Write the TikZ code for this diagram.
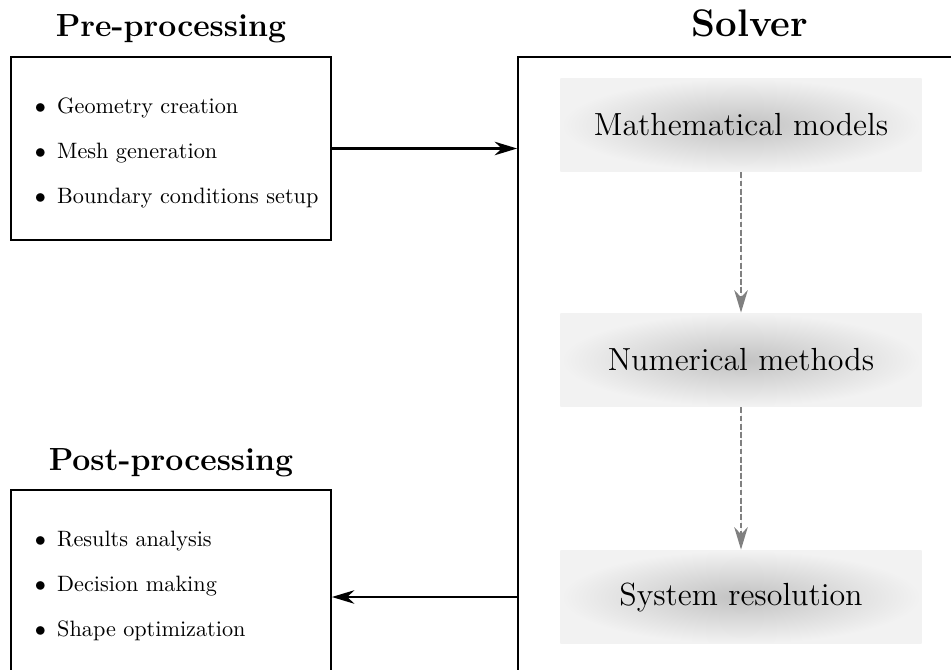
\documentclass[tikz,border=0pt]{standalone}
\usepackage{amsmath}
\usepackage{xcolor}
\definecolor{flowgray}{HTML}{808080}
\usetikzlibrary{arrows.meta,positioning}

\begin{document}
\begin{tikzpicture}[x=0.45pt,y=-0.45pt,>={Stealth[length=10pt,width=6pt,inset=3pt]},line width=0.8pt]
  \tikzstyle{stagebox}=[draw,rectangle,minimum width=144pt,minimum height=82.35pt]
  \tikzstyle{stagelist}=[anchor=west,inner sep=0pt,align=left]
  \tikzstyle{stagetitle}=[anchor=base,font=\Large\bfseries]
  \tikzstyle{solvetitle}=[anchor=base,font=\LARGE\bfseries]
  \tikzstyle{solvebox}=[rectangle,minimum width=162.5pt,minimum height=41.85pt,shading=radial,inner color=black!24,outer color=black!5,font=\Large]
  \tikzstyle{flow}=[->,black,line width=1.05pt]
  \tikzstyle{subflow}=[->,draw=flowgray,fill=flowgray,line width=1.1pt,dash pattern=on 2.6pt off 1.1pt]

  \useasboundingbox (0,0) rectangle (951,670);

  % stages
  \node[stagebox]   (pre)      at (171,148.5) {};
  \node[stagebox]   (post)     at (171,581.5) {};
  \node[stagelist]  (prelist)  [right=10.8pt of pre.west,yshift=-1.8pt]
        {$\bullet$\hspace{5pt}Geometry creation\\[8.25pt]
         $\bullet$\hspace{5pt}Mesh generation\\[8.25pt]
         $\bullet$\hspace{5pt}Boundary conditions setup};
  \node[stagelist]  (postlist) [right=10.8pt of post.west,yshift=-1.8pt]
        {$\bullet$\hspace{5pt}Results analysis\\[8.25pt]
         $\bullet$\hspace{5pt}Decision making\\[8.25pt]
         $\bullet$\hspace{5pt}Shape optimization};
  \node[draw,rectangle,minimum width=208.8pt,minimum height=289.35pt] (solver) at (750,378.5) {};

  \node[stagetitle] (pretitle)  at (171,37)  {Pre-processing};
  \node[stagetitle] (posttitle) at (171,471) {Post-processing};
  \node[solvetitle] (soltitle)  at (750,37)  {Solver};

  % solver parts
  \node[solvebox]   (models)   at (741,125)   {Mathematical models};
  \node[solvebox]   (methods)  at (741,360)   {Numerical methods};
  \node[solvebox]   (resol)    at (741,597)   {System resolution};

  \draw[subflow] (models)  -- (methods);
  \draw[subflow] (methods) -- (resol);

  \draw[flow] (pre.east) -- (pre.east -| solver.west);
  \draw[flow] (resol.west -| solver.west) -- (resol.west -| post.east);
\end{tikzpicture}
\end{document}
